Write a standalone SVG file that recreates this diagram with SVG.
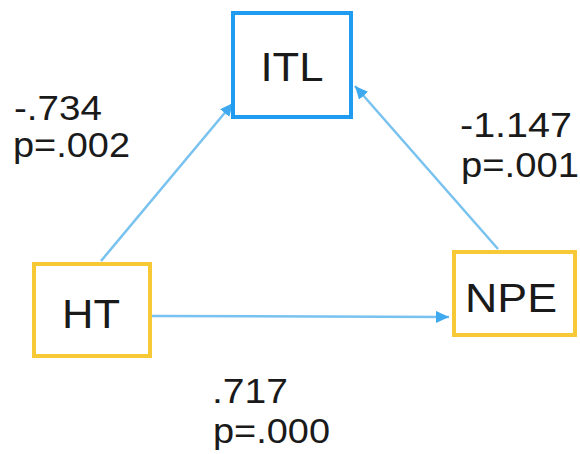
<svg xmlns="http://www.w3.org/2000/svg" width="580" height="454" viewBox="0 0 580 454">
  <style>
    .box-blue { fill: #ffffff; stroke: #1f9bef; stroke-width: 4; }
    .box-gold { fill: #ffffff; stroke: #f7c937; stroke-width: 4; }
    .node-label { font-family: "Liberation Sans", Arial, sans-serif; font-size: 40px; fill: #1a1a1a; text-anchor: middle; }
    .coef { font-family: "Liberation Sans", Arial, sans-serif; font-size: 35px; fill: #1a1a1a; }
    .link { fill: none; stroke: #78c2f0; stroke-width: 2.5; }
  </style>
  <defs>
    <marker id="arrow" markerUnits="userSpaceOnUse" markerWidth="14" markerHeight="12" refX="13" refY="6" orient="auto">
      <path d="M0,0 L13,6 L0,12 Z" fill="#3ea9ee"/>
    </marker>
  </defs>

  <rect width="580" height="454" fill="#ffffff"/>

  <!-- paths between the constructs -->
  <g id="connectors">
    <line class="link" x1="101" y1="261" x2="233" y2="103" marker-end="url(#arrow)"/>
    <line class="link" x1="498" y1="249" x2="355" y2="86" marker-end="url(#arrow)"/>
    <line class="link" x1="152" y1="316" x2="449" y2="317" marker-end="url(#arrow)"/>
  </g>

  <g id="node-ITL">
    <rect class="box-blue" x="233" y="13" width="118" height="104"/>
    <text class="node-label" x="292" y="81" textLength="63" lengthAdjust="spacingAndGlyphs">ITL</text>
  </g>

  <g id="node-HT">
    <rect class="box-gold" x="34" y="264" width="116" height="92"/>
    <text class="node-label" x="91" y="328" textLength="58" lengthAdjust="spacingAndGlyphs">HT</text>
  </g>

  <g id="node-NPE">
    <rect class="box-gold" x="454" y="252" width="121" height="83"/>
    <text class="node-label" x="511" y="312" textLength="92" lengthAdjust="spacingAndGlyphs">NPE</text>
  </g>

  <!-- path coefficients -->
  <g id="labels">
    <text class="coef" x="14" y="120" textLength="88" lengthAdjust="spacingAndGlyphs">-.734</text>
    <text class="coef" x="13" y="157" textLength="117" lengthAdjust="spacingAndGlyphs">p=.002</text>
    <text class="coef" x="460" y="137" textLength="112" lengthAdjust="spacingAndGlyphs">-1.147</text>
    <text class="coef" x="461" y="177" textLength="118" lengthAdjust="spacingAndGlyphs">p=.001</text>
    <text class="coef" x="212" y="403" textLength="76" lengthAdjust="spacingAndGlyphs">.717</text>
    <text class="coef" x="213" y="443" textLength="117" lengthAdjust="spacingAndGlyphs">p=.000</text>
  </g>
</svg>
